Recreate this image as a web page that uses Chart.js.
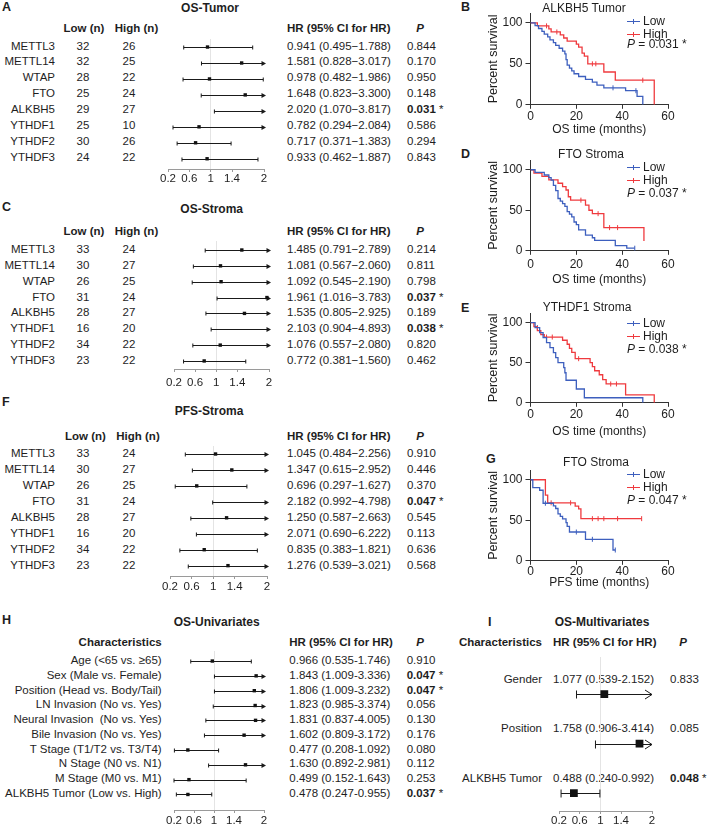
<!DOCTYPE html>
<html>
<head>
<meta charset="utf-8">
<script src="https://cdn.jsdelivr.net/npm/chart.js@4.4.1/dist/chart.umd.min.js"></script>
<style>
  html, body { margin: 0; padding: 0; background: #fff; }
  #fig { position: relative; width: 708px; height: 826px; overflow: hidden; background: #fff;
         font-family: "Liberation Sans", Arial, Helvetica, sans-serif; color: #1e1e1e; }
  #fig .t { position: absolute; white-space: pre; line-height: 1; }
  #fig canvas { position: absolute; }
</style>
</head>
<body>
<div id="fig"></div>
<script>
// ---- data ----
const genes = ['METTL3', 'METTL14', 'WTAP', 'FTO', 'ALKBH5', 'YTHDF1', 'YTHDF2', 'YTHDF3'];

// A  OS-Tumor
const aLowN  = [32, 32, 28, 25, 29, 25, 30, 24];
const aHighN = [26, 25, 22, 24, 27, 10, 26, 22];
const aHR = [0.941, 1.581, 0.978, 1.648, 2.020, 0.782, 0.717, 0.933];
const aLo = [0.495, 0.828, 0.482, 0.823, 1.070, 0.294, 0.371, 0.462];
const aHi = [1.788, 3.017, 1.986, 3.300, 3.817, 2.084, 1.383, 1.887];
const aP  = [0.844, 0.170, 0.950, 0.148, 0.031, 0.586, 0.294, 0.843];

// C  OS-Stroma
const cLowN  = [33, 30, 26, 31, 28, 16, 34, 23];
const cHighN = [24, 27, 25, 24, 27, 20, 22, 22];
const cHR = [1.485, 1.081, 1.092, 1.961, 1.535, 2.103, 1.076, 0.772];
const cLo = [0.791, 0.567, 0.545, 1.016, 0.805, 0.904, 0.557, 0.381];
const cHi = [2.789, 2.060, 2.190, 3.783, 2.925, 4.893, 2.080, 1.560];
const cP  = [0.214, 0.811, 0.798, 0.037, 0.189, 0.038, 0.820, 0.462];

// F  PFS-Stroma
const fLowN  = [33, 30, 26, 31, 28, 16, 34, 23];
const fHighN = [24, 27, 25, 24, 27, 20, 22, 22];
const fHR = [1.045, 1.347, 0.696, 2.182, 1.250, 2.071, 0.835, 1.276];
const fLo = [0.484, 0.615, 0.297, 0.992, 0.587, 0.690, 0.383, 0.539];
const fHi = [2.256, 2.952, 1.627, 4.798, 2.663, 6.222, 1.821, 3.021];
const fP  = [0.910, 0.446, 0.370, 0.047, 0.545, 0.113, 0.636, 0.568];

// H  OS-Univariates
const hLabels = ['Age (<65 vs. \u226565)', 'Sex (Male vs. Female)', 'Position (Head vs. Body/Tail)',
  'LN Invasion (No vs. Yes)', 'Neural Invasion  (No vs. Yes)', 'Bile Invasion (No vs. Yes)',
  'T Stage (T1/T2 vs. T3/T4)', 'N Stage (N0 vs. N1)', 'M Stage (M0 vs. M1)', 'ALKBH5 Tumor (Low vs. High)'];
const hHR = [0.966, 1.843, 1.806, 1.823, 1.831, 1.602, 0.477, 1.630, 0.499, 0.478];
const hLo = [0.535, 1.009, 1.009, 0.985, 0.837, 0.809, 0.208, 0.892, 0.152, 0.247];
const hHi = [1.746, 3.336, 3.232, 3.374, 4.005, 3.172, 1.092, 2.981, 1.643, 0.955];
const hP  = [0.910, 0.047, 0.047, 0.056, 0.130, 0.176, 0.080, 0.112, 0.253, 0.037];

// I  OS-Multivariates
const iLabels = ['Gender', 'Position', 'ALKBH5 Tumor'];
const iHR = [1.077, 1.758, 0.488];
const iLo = [0.539, 0.906, 0.240];
const iHi = [2.152, 3.414, 0.992];
const iP  = [0.833, 0.085, 0.048];

const forestTicks = [0.2, 0.6, 1, 1.4, 2];

// Kaplan-Meier curves (time in months, percent survival)
const kmXTicks = [0, 20, 40, 60];
const kmYTicks = [0, 50, 100];

const bLowT  = [0, 2, 3.5, 5, 6, 7.5, 8.5, 10, 11, 12.5, 14, 15, 15.5, 16, 17, 18, 19, 21, 24, 27, 29, 32, 41.5, 46.5, 49];
const bLowS  = [100, 96.6, 93.1, 89.7, 86.2, 82.8, 79.3, 75.9, 72.4, 69.0, 65.5, 62.1, 55.2, 48.3, 44.8, 41.4, 37.9, 34.5, 31.0, 27.6, 24.1, 20.7, 17.2, 10.3, 0];
const bLowC  = [36, 46];
const bHighT = [0, 3, 8, 9, 13, 14.5, 16, 20, 21, 22.5, 23.5, 25, 32, 37, 54];
const bHighS = [100, 96.3, 92.6, 88.9, 85.2, 81.5, 77.8, 74.1, 70.4, 63.0, 59.3, 50.0, 40.0, 30.0, 0];
const bHighC = [7, 11.5, 27, 28.5, 49];

const dLowT  = [0, 2, 6, 8, 9, 10, 11, 12, 13, 14, 15, 16, 17, 18, 19, 20, 21, 24, 27, 28, 37, 42, 45.5];
const dLowS  = [100, 96.8, 93.5, 90.3, 87.1, 80.6, 74.2, 64.5, 61.3, 58.1, 54.8, 48.4, 45.2, 41.9, 35.5, 32.3, 25.8, 19.4, 16.1, 12.9, 6.5, 3.2, 3.2];
const dLowC  = [45.5];
const dHighT = [0, 1.5, 5, 8, 12, 14, 15.5, 16.5, 17.5, 24, 25.5, 27, 32, 49.5];
const dHighS = [100, 95.8, 91.7, 87.5, 83.3, 79.2, 75.0, 66.7, 62.5, 56.3, 50.0, 45.8, 28.6, 12.0];
const dHighC = [22, 29.5, 34.5, 38];

const eLowT  = [0, 2, 4, 5.5, 7, 8.5, 10, 11, 12, 14.5, 15, 15.5, 20, 23.5, 49];
const eLowS  = [100, 93.8, 87.5, 81.3, 75.0, 68.8, 62.5, 56.3, 50.0, 43.8, 37.5, 28.1, 17.2, 6.3, 0];
const eLowC  = [3];
const eHighT = [0, 1.5, 3, 4.5, 6, 14, 16, 17, 18, 19.5, 26, 27, 28, 30, 31.5, 33, 41.5, 54];
const eHighS = [100, 95, 90, 85, 82, 78, 73, 68, 63, 55, 50, 45, 40, 35, 29, 23.5, 10, 0];
const eHighC = [7, 9.5, 21, 35, 37.5];

const gLowT  = [0, 1, 4, 5.5, 10, 11, 12, 13, 14, 15.5, 16, 17, 24, 36, 37];
const gLowS  = [100, 90.3, 87, 71, 67.7, 64.5, 58, 54.8, 51.6, 47, 42.5, 35.5, 26.5, 13.3, 13.3];
const gLowC  = [6.5, 20, 27, 37];
const gHighT = [0, 6.5, 7.5, 19.5, 21, 22, 48.5];
const gHighS = [100, 81, 71.5, 67.5, 64, 52, 52];
const gHighC = [9, 17.5, 27, 29.5, 32, 38, 48.5];

// ---- helpers ----
const FONT = '"Liberation Sans", Arial, Helvetica, sans-serif';
const LOW = '#3d5fbe';
const HIGH = '#ef3a3e';
const INK = '#1e1e1e';
const kmYMax = 112;
Chart.defaults.font.family = FONT;
Chart.defaults.color = INK;

const fig = document.getElementById('fig');

function txt(x, y, s, o) {
  o = o || {};
  const d = document.createElement('div');
  d.className = 't';
  if (o.html) d.innerHTML = s; else d.textContent = s;
  d.style.left = x + 'px';
  d.style.top = y + 'px';
  d.style.fontSize = (o.size || 11.5) + 'px';
  if (o.bold) d.style.fontWeight = 'bold';
  if (o.italic) d.style.fontStyle = 'italic';
  const tx = o.align === 'center' ? '-50%' : (o.align === 'right' ? '-100%' : '0');
  d.style.transform = 'translate(' + tx + ',-50%)';
  fig.appendChild(d);
}

function box(x, y, w, h, color) {
  const d = document.createElement('div');
  d.style.cssText = 'position:absolute;left:' + x + 'px;top:' + y + 'px;width:' + w + 'px;height:' + h + 'px;background:' + color;
  fig.appendChild(d);
}

function makeCanvas(l, t, w, h) {
  const c = document.createElement('canvas');
  c.width = Math.round(w);
  c.height = Math.round(h);
  c.style.left = Math.round(l) + 'px';
  c.style.top = Math.round(t) + 'px';
  c.style.width = c.width + 'px';
  c.style.height = c.height + 'px';
  fig.appendChild(c);
  return c;
}

function ciText(hr, lo, hi, sep) {
  return hr.toFixed(3) + ' (' + lo.toFixed(3) + sep + hi.toFixed(3) + ')';
}
function pText(p) {
  return p < 0.05 ? '<b>' + p.toFixed(3) + '</b> *' : p.toFixed(3);
}

// error bars, caps and arrows drawn with the chart's own scales
function ciPlugin(o) {
  return {
    id: 'ci',
    beforeDatasetsDraw(chart) {
      const ctx = chart.ctx, xs = chart.scales.x, ys = chart.scales.y;
      const cap = o.big ? 4 : 2;
      ctx.save();
      ctx.strokeStyle = '#1a1a1a';
      ctx.fillStyle = '#1a1a1a';
      ctx.lineWidth = 1;
      o.lo.forEach((lo, i) => {
        const y = Math.round(ys.getPixelForValue(i)) + 0.5;
        const xl = xs.getPixelForValue(Math.max(lo, xs.min));
        const over = o.hi[i] > xs.max;
        const xr = xs.getPixelForValue(Math.min(o.hi[i], xs.max));
        ctx.beginPath();
        ctx.moveTo(xl, y); ctx.lineTo(xr, y);
        ctx.moveTo(xl, y - cap); ctx.lineTo(xl, y + cap);
        if (!over) { ctx.moveTo(xr, y - cap); ctx.lineTo(xr, y + cap); }
        ctx.stroke();
        if (over) {
          if (o.big) {
            ctx.beginPath();
            ctx.moveTo(xr - 7, y - 4.5); ctx.lineTo(xr, y); ctx.lineTo(xr - 7, y + 4.5);
            ctx.stroke();
          } else {
            ctx.beginPath();
            ctx.moveTo(xr - 2.5, y - 2.5); ctx.lineTo(xr + 2, y); ctx.lineTo(xr - 2.5, y + 2.5);
            ctx.closePath(); ctx.fill();
          }
        }
      });
      ctx.restore();
    }
  };
}

// y tick labels of the survival plots, placed from the y scale
const yTickLabels = {
  id: 'yTickLabels',
  afterDraw(chart) {
    const ctx = chart.ctx, ys = chart.scales.y;
    ctx.save();
    ctx.font = '12px ' + FONT;
    ctx.fillStyle = INK;
    ctx.textAlign = 'right';
    ctx.textBaseline = 'middle';
    ys.ticks.forEach(t => ctx.fillText(String(t.value), ys.right - 8, ys.getPixelForValue(t.value)));
    ctx.restore();
  }
};

function forest(o) {
  const padL = 14, padR = 9, padT = 2, tickLen = 3, axisH = 24;
  const n = o.hr.length;
  const yLast = o.y0 + (n - 1) * o.dy;
  const yMin = -(o.y0 - o.top) / o.dy;
  const yMax = (n - 1) + (o.axisY - yLast) / o.dy;
  const xMin = forestTicks[0], xMax = forestTicks[forestTicks.length - 1];
  const cv = makeCanvas(o.x0 - padL, o.top - padT, (o.x1 - o.x0) + padL + padR, (o.axisY - o.top) + padT + axisH);
  new Chart(cv, {
    type: 'scatter',
    data: {
      datasets: [{
        data: o.hr.map((v, i) => ({ x: v, y: i })).filter(p => p.x <= xMax),
        pointStyle: 'rect',
        pointRadius: o.big ? 5.5 : 2.4,
        pointHoverRadius: o.big ? 5.5 : 2.4,
        backgroundColor: '#111',
        borderWidth: 0
      }]
    },
    options: {
      responsive: false,
      animation: false,
      events: [],
      layout: { autoPadding: false, padding: { left: padL, right: padR, top: padT, bottom: 0 } },
      plugins: { legend: { display: false }, tooltip: { enabled: false } },
      scales: {
        x: {
          type: 'linear', min: xMin, max: xMax,
          afterBuildTicks: s => { s.ticks = forestTicks.map(v => ({ value: v })); },
          afterFit: s => { s.height = axisH; },
          ticks: {
            font: { size: 11.5, lineHeight: 1 }, color: INK, maxRotation: 0, autoSkip: false,
            padding: Math.max(0, o.labOff - tickLen - 5.75),
            callback: v => String(v)
          },
          grid: {
            color: c => (c.tick && c.tick.value === 1) ? '#e4e4e4' : 'rgba(0,0,0,0)',
            tickColor: '#9a9a9a', tickLength: tickLen
          },
          border: { display: true, color: '#9a9a9a' }
        },
        y: { type: 'linear', display: false, reverse: true, min: yMin, max: yMax }
      }
    },
    plugins: [ciPlugin(o)]
  });
}

function geneTable(o) {
  txt(2, o.letterY, o.letter, { bold: true, size: 12.5 });
  txt(o.titleX, o.titleY, o.title, { bold: true, size: 12, align: 'center' });
  txt(o.lowHX, o.headY, 'Low (n)', { bold: true, align: 'center' });
  txt(o.highHX, o.headY, 'High (n)', { bold: true, align: 'center' });
  txt(287, o.headY, 'HR (95% CI for HR)', { bold: true });
  txt(420, o.headY, 'P', { bold: true, italic: true, align: 'center' });
  genes.forEach((g, i) => {
    const y = o.y0 + i * o.dy;
    txt(55, y, g, { align: 'right' });
    txt(83, y, String(o.lowN[i]), { align: 'center' });
    txt(129, y, String(o.highN[i]), { align: 'center' });
    txt(287, y, ciText(o.hr[i], o.lo[i], o.hi[i], '\u2212'));
    txt(407, y, pText(o.p[i]), { html: true });
  });
  forest(o);
}

function survAt(T, S, t) {
  let s = S[0];
  for (let i = 0; i < T.length; i++) if (T[i] <= t) s = S[i];
  return s;
}

function km(o) {
  const padL = 2, padR = 14, padT = 3, padB = 2;
  const ppu = (o.y0 - o.y100) / 100;
  const yTopPx = o.y0 - kmYMax * ppu;
  const yAxisLeft = 493 - 7.5;
  const yAxisW = o.x0 - yAxisLeft;
  const xAxisH = o.xTitleOff + 7.2;
  const cv = makeCanvas(yAxisLeft - padL, yTopPx - padT,
    padL + yAxisW + (o.x60 - o.x0) + padR, padT + (o.y0 - yTopPx) + xAxisH + padB);

  const curve = (T, S, color) => ({
    data: T.map((t, i) => ({ x: t, y: S[i] })),
    stepped: true, borderColor: color, borderWidth: 1.3,
    pointRadius: 0, pointHoverRadius: 0, fill: false
  });
  const marks = (T, S, C, color) => ({
    data: C.map(t => ({ x: t, y: survAt(T, S, t) })),
    showLine: false, pointStyle: 'line', pointRotation: 90,
    pointRadius: 2.5, pointHoverRadius: 2.5, borderColor: color, pointBorderColor: color, borderWidth: 1
  });

  new Chart(cv, {
    type: 'line',
    data: {
      datasets: [
        curve(o.lowT, o.lowS, LOW), curve(o.highT, o.highS, HIGH),
        marks(o.lowT, o.lowS, o.lowC, LOW), marks(o.highT, o.highS, o.highC, HIGH)
      ]
    },
    options: {
      responsive: false,
      animation: false,
      events: [],
      layout: { autoPadding: false, padding: { left: padL, right: padR, top: padT, bottom: padB } },
      plugins: { legend: { display: false }, tooltip: { enabled: false } },
      scales: {
        x: {
          type: 'linear', min: 0, max: 60,
          afterBuildTicks: s => { s.ticks = kmXTicks.map(v => ({ value: v })); },
          afterFit: s => { s.height = xAxisH; },
          ticks: { font: { size: 12 }, color: INK, maxRotation: 0, autoSkip: false,
                   padding: Math.max(0, o.xLabOff - 4 - 7.2) },
          grid: { drawOnChartArea: false, tickLength: 4, color: '#333' },
          border: { color: '#333' },
          title: { display: true, text: o.xTitle, font: { size: 12 }, color: INK, padding: 0 }
        },
        y: {
          type: 'linear', min: 0, max: kmYMax,
          afterBuildTicks: s => { s.ticks = kmYTicks.map(v => ({ value: v })); },
          afterFit: s => { s.width = yAxisW; },
          ticks: { display: false, autoSkip: false },
          grid: { drawOnChartArea: false, tickLength: 5, color: '#333' },
          border: { color: '#333' },
          title: { display: true, text: 'Percent survival', font: { size: 12.5 }, color: INK, padding: 0 }
        }
      }
    },
    plugins: [yTickLabels]
  });

  // panel letter, title, legend
  txt(o.letterX, o.letterY, o.letter, { bold: true, size: 12.5 });
  txt(o.titleX, o.titleY, o.title, { size: 12, align: 'center' });
  [[o.lowY, 'Low', LOW], [o.highY, 'High', HIGH]].forEach(([y, label, color]) => {
    box(627, y - 0.5, 13, 1.4, color);
    box(633, y - 2.5, 1.2, 5, color);
    txt(643, y, label, { size: 12 });
  });
  txt(627, o.pY, '<i>P</i> = ' + o.p.toFixed(3) + ' *', { size: 12, html: true });
}

// ---- panels A, C, F ----
geneTable({ letter: 'A', letterY: 7, title: 'OS-Tumor', titleX: 210, titleY: 7.5,
  headY: 29, lowHX: 84, highHX: 136.5, y0: 46.5, dy: 15.9,
  lowN: aLowN, highN: aHighN, hr: aHR, lo: aLo, hi: aHi, p: aP,
  x0: 167.5, x1: 263.5, top: 38.5, axisY: 168, labOff: 9.5 });

geneTable({ letter: 'C', letterY: 206.7, title: 'OS-Stroma', titleX: 211.7, titleY: 209.3,
  headY: 231.7, lowHX: 84, highHX: 136.5, y0: 250, dy: 15.85,
  lowN: cLowN, highN: cHighN, hr: cHR, lo: cLo, hi: cHi, p: cP,
  x0: 174, x1: 269, top: 241, axisY: 369, labOff: 13.5 });

geneTable({ letter: 'F', letterY: 401.5, title: 'PFS-Stroma', titleX: 209, titleY: 411,
  headY: 436.7, lowHX: 85.5, highHX: 138, y0: 454, dy: 15.95,
  lowN: fLowN, highN: fHighN, hr: fHR, lo: fLo, hi: fHi, p: fP,
  x0: 170, x1: 266.7, top: 446, axisY: 576, labOff: 11 });

// ---- panel H ----
txt(2, 620, 'H', { bold: true, size: 12.5 });
txt(216.7, 621.7, 'OS-Univariates', { bold: true, size: 12, align: 'center' });
txt(161.7, 643.3, 'Characteristics', { bold: true, align: 'right' });
txt(289.3, 643.3, 'HR (95% CI for HR)', { bold: true });
txt(420, 643.3, 'P', { bold: true, italic: true, align: 'center' });
hLabels.forEach((lab, i) => {
  const y = 661 + i * 14.78;
  txt(161.7, y, lab, { align: 'right' });
  txt(289.3, y, ciText(hHR[i], hLo[i], hHi[i], '-'));
  txt(406.7, y, pText(hP[i]), { html: true });
});
forest({ hr: hHR, lo: hLo, hi: hHi, x0: 174, x1: 264, y0: 661, dy: 14.78, top: 651, axisY: 809.5, labOff: 10.5 });

// ---- panel I ----
txt(488, 621.7, 'I', { bold: true, size: 12.5 });
txt(602, 621.7, 'OS-Multivariates', { bold: true, size: 12, align: 'center' });
txt(542, 643.3, 'Characteristics', { bold: true, align: 'right' });
txt(553, 643.3, 'HR (95% CI for HR)', { bold: true });
txt(683, 643.3, 'P', { bold: true, italic: true, align: 'center' });
iLabels.forEach((lab, i) => {
  const y = 694 + i * 49.35 - 14;
  txt(542, y, lab, { align: 'right' });
  txt(553, y, ciText(iHR[i], iLo[i], iHi[i], '-'));
  txt(670, y, pText(iP[i]), { html: true });
});
forest({ hr: iHR, lo: iLo, hi: iHi, x0: 559.3, x1: 652.7, y0: 694, dy: 49.35, top: 657, axisY: 810.5, labOff: 9.5, big: true });

// ---- Kaplan-Meier panels ----
km({ letter: 'B', letterX: 461, letterY: 6.5, title: 'ALKBH5 Tumor', titleX: 584, titleY: 8,
  lowY: 21, highY: 34, pY: 43.5, p: aP[4],
  x0: 530, x60: 667, y100: 23, y0: 105, xLabOff: 12, xTitleOff: 25, xTitle: 'OS time (months)',
  lowT: bLowT, lowS: bLowS, lowC: bLowC, highT: bHighT, highS: bHighS, highC: bHighC });

km({ letter: 'D', letterX: 461, letterY: 154, title: 'FTO Stroma', titleX: 591, titleY: 153.5,
  lowY: 167, highY: 180, pY: 193.3, p: cP[3],
  x0: 530, x60: 667, y100: 170, y0: 251, xLabOff: 14, xTitleOff: 29, xTitle: 'OS time (months)',
  lowT: dLowT, lowS: dLowS, lowC: dLowC, highT: dHighT, highS: dHighS, highC: dHighC });

km({ letter: 'E', letterX: 461, letterY: 307.5, title: 'YTHDF1 Stroma', titleX: 587, titleY: 307,
  lowY: 323, highY: 336, pY: 349, p: cP[5],
  x0: 530, x60: 667, y100: 323, y0: 403.3, xLabOff: 12, xTitleOff: 29, xTitle: 'OS time (months)',
  lowT: eLowT, lowS: eLowS, lowC: eLowC, highT: eHighT, highS: eHighS, highC: eHighC });

km({ letter: 'G', letterX: 486, letterY: 459, title: 'FTO Stroma', titleX: 596, titleY: 462,
  lowY: 474, highY: 487, pY: 500, p: fP[3],
  x0: 530, x60: 667, y100: 480, y0: 561, xLabOff: 11, xTitleOff: 22, xTitle: 'PFS time (months)',
  lowT: gLowT, lowS: gLowS, lowC: gLowC, highT: gHighT, highS: gHighS, highC: gHighC });
</script>
</body>
</html>
